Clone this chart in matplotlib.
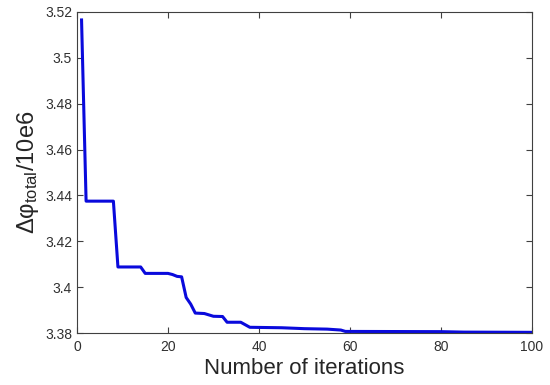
import matplotlib
matplotlib.use("Agg")
import matplotlib.pyplot as plt

iterations = [1, 2, 8, 9, 14, 15, 20, 21, 22, 23, 24, 25, 26, 28, 30, 32, 33, 36, 38,
              45, 50, 55, 58, 59, 80, 85, 100]
delta_phi = [3.5165, 3.4375, 3.4375, 3.4088, 3.4088, 3.406, 3.406, 3.4055, 3.4047, 3.4045,
             3.3955, 3.3926, 3.3887, 3.3885, 3.3873, 3.3872, 3.3847, 3.3847, 3.3825,
             3.3823, 3.3819, 3.3817, 3.3813, 3.3807, 3.3806, 3.3804, 3.3803]
xticks = [0, 20, 40, 60, 80, 100]
yticks = [3.38, 3.40, 3.42, 3.44, 3.46, 3.48, 3.50, 3.52]
ytick_labels = ["3.38", "3.4", "3.42", "3.44", "3.46", "3.48", "3.5", "3.52"]

plt.rcParams['font.family'] = ['Liberation Sans', 'DejaVu Sans']
plt.rcParams['mathtext.fontset'] = 'custom'
plt.rcParams['mathtext.rm'] = 'Liberation Sans'
plt.rcParams['mathtext.it'] = 'Liberation Sans'

fig = plt.figure(figsize=(5.5, 3.85), dpi=100)
ax = fig.add_axes([0.14, 0.135, 0.827, 0.834])
ax.plot(iterations, delta_phi, color='#0a0adc', linewidth=2.2)
ax.set_xlim(0, 100)
ax.set_ylim(3.38, 3.52)
ax.set_xticks(xticks)
ax.set_yticks(yticks)
ax.set_yticklabels(ytick_labels)
ax.tick_params(direction='in', top=True, right=True, length=4, width=0.8,
               colors='#404040', labelsize=10, labelcolor='#303030')
ax.tick_params(axis='x', pad=5)
for s in ax.spines.values():
    s.set_color('#404040')
    s.set_linewidth(0.8)
ax.set_xlabel('Number of iterations', fontsize=16, color='#262626', labelpad=3)
ax.set_ylabel(r'$\mathregular{\Delta\varphi_{total}/10e6}$', fontsize=17, color='#262626', labelpad=3)
fig.savefig('out.png', dpi=100)
